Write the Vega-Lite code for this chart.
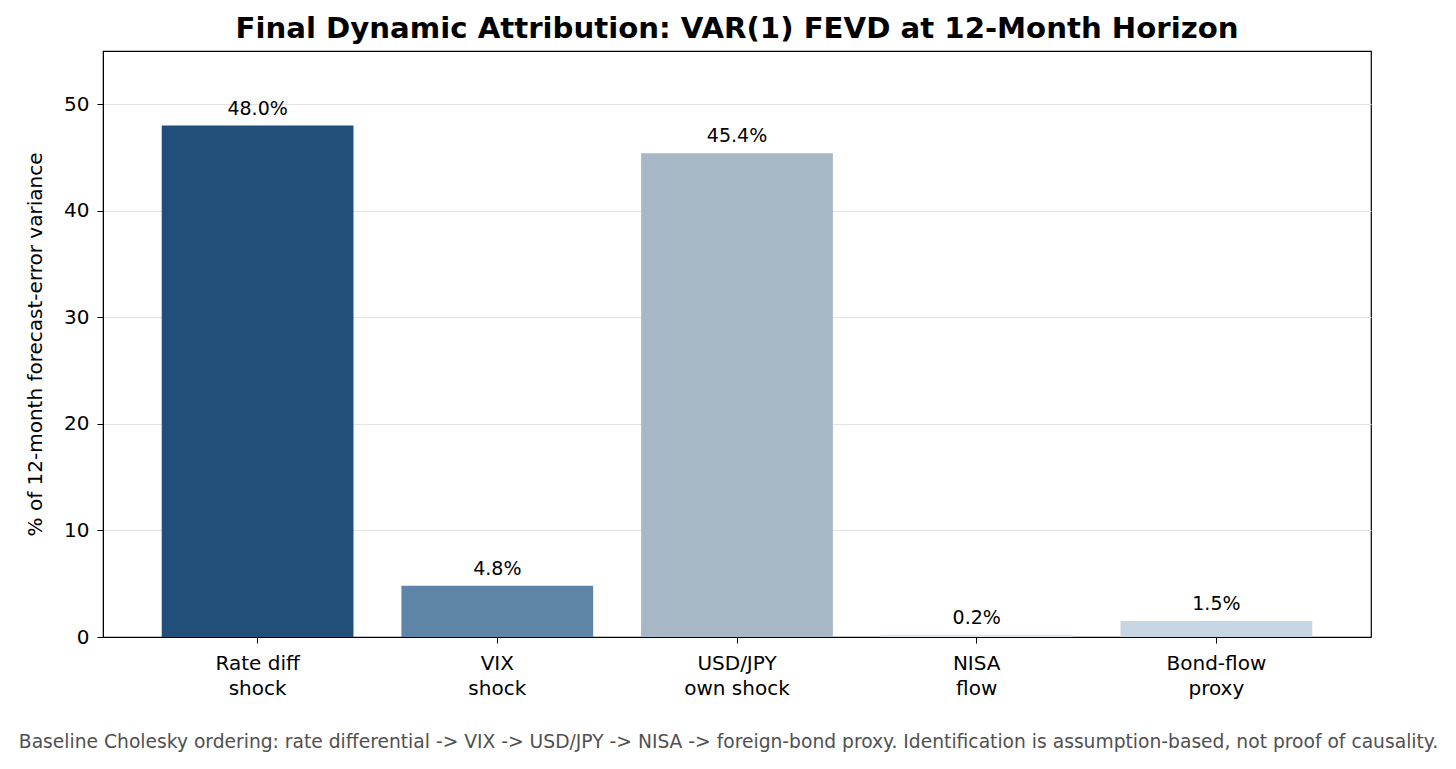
{
  "$schema": "https://vega.github.io/schema/vega-lite/v6.json",
  "autosize": {"type": "none"},
  "padding": {"left": 103, "top": 51, "right": 85, "bottom": 132},
  "width": 1268,
  "height": 586,
  "background": "white",
  "title": {
    "text": "Final Dynamic Attribution: VAR(1) FEVD at 12-Month Horizon",
    "font": "DejaVu Sans",
    "fontSize": 29.2,
    "fontWeight": "bold",
    "color": "black",
    "anchor": "middle",
    "offset": 7
  },
  "config": {
    "font": "DejaVu Sans",
    "view": {"stroke": "black", "strokeWidth": 1.2},
    "axis": {
      "labelFont": "DejaVu Sans",
      "titleFont": "DejaVu Sans",
      "labelColor": "black",
      "titleColor": "black",
      "tickColor": "black",
      "domainColor": "black",
      "labelFontSize": 20,
      "titleFontSize": 20,
      "titleFontWeight": "normal",
      "tickSize": 6
    }
  },
  "data": {
    "values": [
      {"shock": "Rate diff|shock", "share": 48.0, "label": "48.0%"},
      {"shock": "VIX|shock", "share": 4.8, "label": "4.8%"},
      {"shock": "USD/JPY|own shock", "share": 45.4, "label": "45.4%"},
      {"shock": "NISA|flow", "share": 0.2, "label": "0.2%"},
      {"shock": "Bond-flow|proxy", "share": 1.5, "label": "1.5%"}
    ]
  },
  "encoding": {
    "x": {
      "field": "shock",
      "type": "nominal",
      "sort": null,
      "scale": {"paddingInner": 0.2, "paddingOuter": 0.245},
      "axis": {
        "labelAngle": 0,
        "labelExpr": "split(datum.label, '|')",
        "labelLineHeight": 25,
        "labelPadding": 10,
        "title": "Baseline Cholesky ordering: rate differential -> VIX -> USD/JPY -> NISA -> foreign-bond proxy. Identification is assumption-based, not proof of causality.",
        "titleFontSize": 18.7,
        "titleColor": "#505050",
        "titlePadding": 34,
        "titleX": 625,
        "grid": false
      }
    }
  },
  "layer": [
    {
      "mark": {"type": "bar"},
      "encoding": {
        "y": {
          "field": "share",
          "type": "quantitative",
          "scale": {"domain": [0, 55], "nice": false},
          "axis": {
            "title": "% of 12-month forecast-error variance",
            "values": [0, 10, 20, 30, 40, 50],
            "grid": true,
            "gridColor": "#e3e3e3",
            "gridWidth": 1,
            "labelPadding": 8,
            "titlePadding": 18
          }
        },
        "color": {
          "field": "shock",
          "type": "nominal",
          "legend": null,
          "scale": {
            "domain": ["Rate diff|shock", "VIX|shock", "USD/JPY|own shock", "NISA|flow", "Bond-flow|proxy"],
            "range": ["#224f79", "#5e84a8", "#a8b7c6", "#dde5ee", "#c5d5e2"]
          }
        }
      }
    },
    {
      "mark": {"type": "text", "baseline": "bottom", "dy": -7, "fontSize": 19, "color": "black"},
      "encoding": {
        "y": {"field": "share", "type": "quantitative"},
        "text": {"field": "label"}
      }
    }
  ]
}
